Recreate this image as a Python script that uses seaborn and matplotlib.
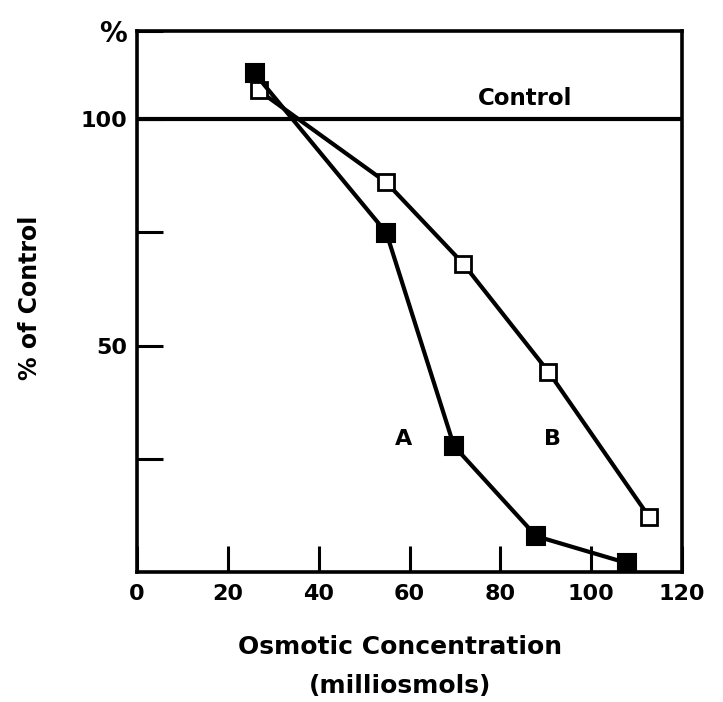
import matplotlib
matplotlib.use("Agg")
import matplotlib.pyplot as plt
import seaborn as sns
import pandas as pd

# ---- data ----
osm_A = [25.9, 54.9, 69.8, 87.9, 107.8]
pct_A = [110.1, 74.9, 27.8, 7.9, 2.0]
osm_B = [26.8, 54.9, 71.8, 90.6, 112.8]
pct_B = [106.3, 86.0, 68.1, 44.2, 12.1]
control_level = 100
x_ticks = [0, 20, 40, 60, 80, 100, 120]
x_ticklabels = ["0", "20", "40", "60", "80", "100", "120"]
y_ticks = [25, 50, 75, 100, 119.5]
y_ticklabels = ["", "50", "", "100", "%"]

sns.set_theme(style="ticks")
plt.rcParams["font.family"] = ["DejaVu Sans"]
plt.rcParams["font.weight"] = "bold"
for k in ["text.color", "axes.labelcolor", "xtick.color", "ytick.color",
          "axes.edgecolor"]:
    plt.rcParams[k] = "black"

fig = plt.figure(figsize=(7.23, 7.02), dpi=100)
ax = fig.add_axes([137/723, 1-572/702, (682-137)/723, (572-30.7)/702])

dfA = pd.DataFrame({"osm": osm_A, "pct": pct_A})
dfB = pd.DataFrame({"osm": osm_B, "pct": pct_B})

ax.axhline(control_level, color="black", lw=3, zorder=1)

sns.lineplot(data=dfB, x="osm", y="pct", ax=ax, color="black", lw=3,
             marker="s", markersize=11, markerfacecolor="white",
             markeredgecolor="black", markeredgewidth=2,
             estimator=None, sort=False, clip_on=False, zorder=3)
sns.lineplot(data=dfA, x="osm", y="pct", ax=ax, color="black", lw=3,
             marker="s", markersize=12.5, markerfacecolor="black",
             markeredgecolor="black", markeredgewidth=1.5,
             estimator=None, sort=False, clip_on=False, zorder=4)

ax.set_xlim(0, 120)
ax.set_ylim(0, 119.5)
ax.set_xticks(x_ticks)
ax.set_xticklabels(x_ticklabels)
ax.set_yticks(y_ticks)
ax.set_yticklabels(y_ticklabels)
ax.tick_params(axis="both", direction="in", length=19, width=2.2,
               labelsize=16, color="black", labelcolor="black")
ax.tick_params(axis="x", pad=9)
ax.tick_params(axis="y", pad=7)
for lab in ax.get_xticklabels() + ax.get_yticklabels():
    lab.set_fontweight("bold")
ax.get_yticklabels()[-1].set_fontsize(20)

for s in ax.spines.values():
    s.set_linewidth(2.6)
    s.set_color("black")

ax.set_xlabel("")
ax.set_ylabel("")

ax.text(85.4, 104.6, "Control", ha="center", va="center",
        fontsize=16.5, fontweight="bold", color="black")
ax.text(58.6, 29.3, "A", ha="center", va="center",
        fontsize=16, fontweight="bold", color="black")
ax.text(91.5, 29.3, "B", ha="center", va="center",
        fontsize=16, fontweight="bold", color="black")

fig.text(400/723, 1-647/702, "Osmotic Concentration", ha="center",
         va="center", fontsize=18, fontweight="bold", color="black")
fig.text(400/723, 1-686/702, "(milliosmols)", ha="center",
         va="center", fontsize=18, fontweight="bold", color="black")
fig.text(30/723, 1-298/702, "% of Control", ha="center", va="center",
         rotation=90, fontsize=17, fontweight="bold", color="black")

fig.savefig("out.png", dpi=100, facecolor="white")
